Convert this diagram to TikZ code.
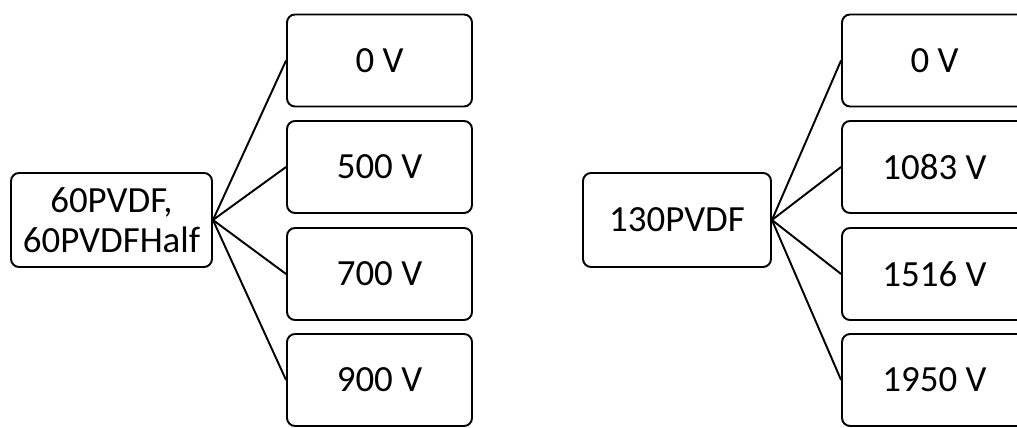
\documentclass[tikz,border=0pt]{standalone}
\usepackage{fontspec}
\setmainfont{Carlito}
\begin{document}
\begin{tikzpicture}[
		x=0.02cm, y=-0.02cm,
		box/.style={draw, rectangle, rounded corners=0.16cm, line width=1.1pt, minimum width=3.7cm, minimum height=1.84cm, align=center, font=\fontsize{21}{23}\selectfont},
		link/.style={line width=1.1pt},
	]
	\clip (0,0) rectangle (1017,428);
	% 60PVDF group
	\node[box, minimum width=4.02cm, minimum height=1.88cm] (s60) at (111.5,220) {60PVDF,\\60PVDFHalf};
	\node[box] (a0) at (379.5,60.5) {0 V};
	\node[box] (a500) at (379.5,167) {500 V};
	\node[box] (a700) at (379.5,274) {700 V};
	\node[box] (a900) at (379.5,380) {900 V};
	% 130PVDF group
	\node[box, minimum width=3.76cm, minimum height=1.88cm] (s130) at (677,220) {130PVDF};
	\node[box] (b0) at (934.5,60.5) {0 V};
	\node[box] (b1083) at (934.5,167) {1083 V};
	\node[box] (b1516) at (934.5,274) {1516 V};
	\node[box] (b1950) at (934.5,380) {1950 V};
	\foreach \c in {a0,a500,a700,a900} \draw[link] (s60.east) -- (\c.west);
	\foreach \c in {b0,b1083,b1516,b1950} \draw[link] (s130.east) -- (\c.west);
\end{tikzpicture}
\end{document}
